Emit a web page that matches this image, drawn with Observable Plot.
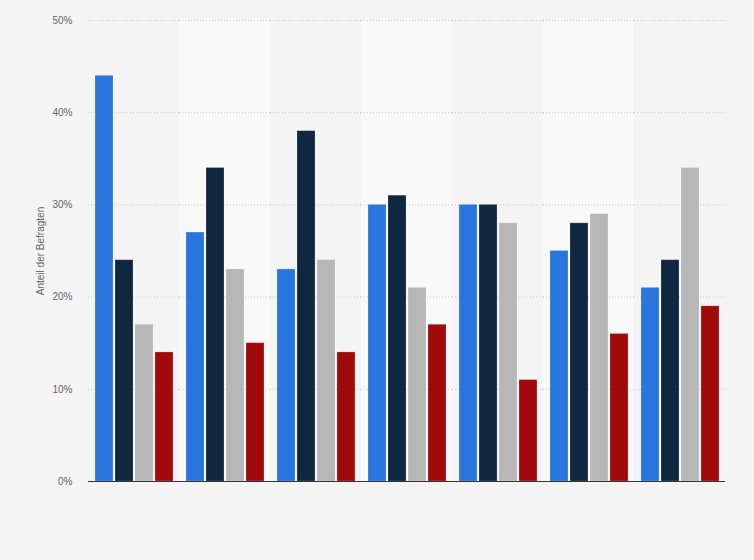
<!DOCTYPE html>
<html>
<head>
<meta charset="utf-8">
<script src="https://cdn.jsdelivr.net/npm/d3@7"></script>
<script src="https://cdn.jsdelivr.net/npm/@observablehq/plot@0.6"></script>
<style>
  html, body { margin: 0; padding: 0; background: #f4f4f4; }
  #chart { width: 754px; height: 560px; }
  svg { font-family: "Liberation Sans", Arial, sans-serif; }
</style>
</head>
<body>
<div id="chart"></div>
<script>
const groups = ["1", "2", "3", "4", "5", "6", "7"];
const seriesNames = ["Serie 1", "Serie 2", "Serie 3", "Serie 4"];
const serie1 = [44, 27, 23, 30, 30, 25, 21];
const serie2 = [24, 34, 38, 31, 30, 28, 24];
const serie3 = [17, 23, 24, 21, 28, 29, 34];
const serie4 = [14, 15, 14, 17, 11, 16, 19];
const colors = ["#2876dd", "#0f2741", "#b7b7b7", "#a10a0a"];
const yTicks = [0, 10, 20, 30, 40, 50];
const stripeGroups = ["2", "4", "6"];

const allSeries = [serie1, serie2, serie3, serie4];
const data = [];
groups.forEach((g, i) => {
  seriesNames.forEach((s, j) => data.push({group: g, series: s, value: allSeries[j][i]}));
});

const chart = Plot.plot({
  width: 754,
  height: 560,
  marginLeft: 88,
  marginRight: 29,
  marginTop: 20,
  marginBottom: 79,
  style: {background: "#f4f4f4", fontFamily: "Liberation Sans, Arial, sans-serif"},
  fx: {domain: groups, padding: 0, axis: null},
  x: {domain: seriesNames, paddingInner: 0.1, paddingOuter: 0.325, axis: null},
  y: {domain: [0, 50]},
  color: {domain: seriesNames, range: colors},
  marks: [
    Plot.barY(stripeGroups, {fx: d => d, y1: 0, y2: 50, fill: "#f9f9f9"}),
    Plot.gridY(yTicks.filter(d => d > 0), {stroke: "#c8c8c8", strokeOpacity: 1, strokeDasharray: "1,2"}),
    Plot.barY(data, {fx: "group", x: "series", y: "value", fill: "series", stroke: "#ffffff", strokeOpacity: 0.25, strokeWidth: 0.8}),
    Plot.ruleY([0], {stroke: "#333", strokeWidth: 1.2}),
    Plot.axisY({
      ticks: yTicks,
      tickSize: 0,
      tickPadding: 16,
      tickFormat: d => d + "%",
      fontSize: 10,
      color: "#666",
      label: "Anteil der Befragten",
      labelAnchor: "center",
      labelArrow: "none",
      labelOffset: 52
    })
  ]
});
document.getElementById("chart").appendChild(chart);
</script>
</body>
</html>
